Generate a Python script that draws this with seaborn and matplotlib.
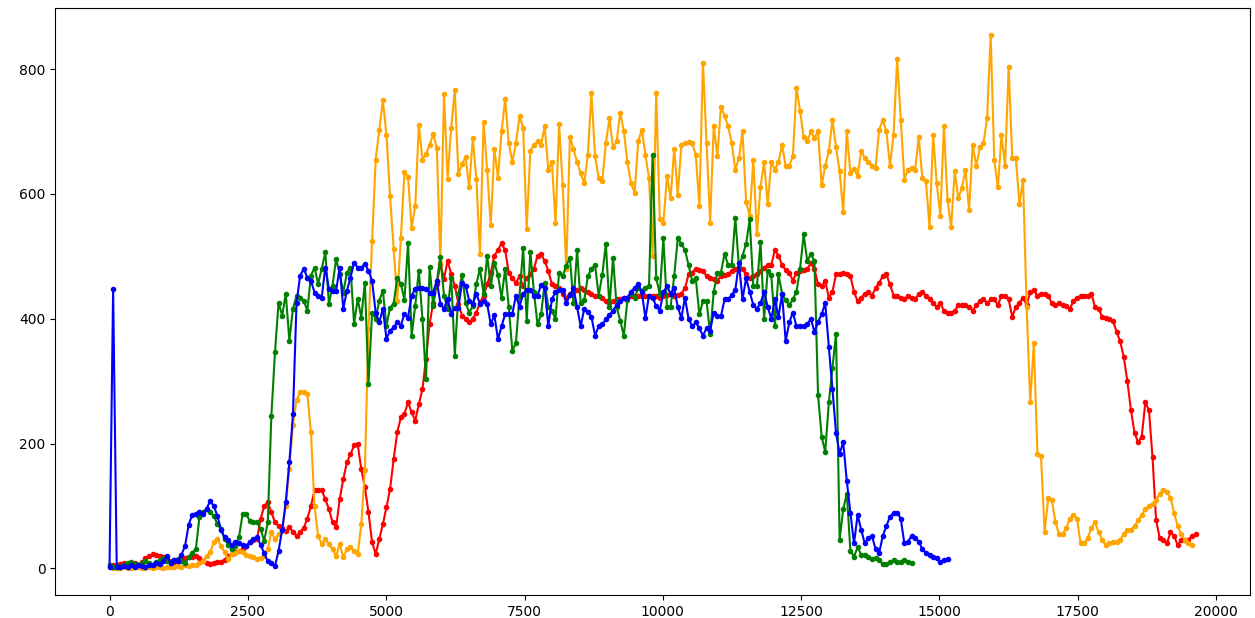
import numpy as np
import matplotlib
matplotlib.use("Agg")
import matplotlib.pyplot as plt
import seaborn as sns

STEP = 65  # sampling interval on the x axis

blue_vals = [
    2, 447, 3, 2, 4, 3, 5, 2, 6, 4,
    3, 6, 5, 9, 7, 12, 20, 9, 14, 12,
    22, 36, 70, 86, 88, 90, 88, 96, 108, 100,
    84, 62, 50, 46, 37, 42, 40, 38, 36, 42,
    47, 50, 38, 24, 12, 8, 4, 28, 62, 106,
    170, 247, 426, 469, 480, 466, 461, 442, 437, 434,
    482, 448, 445, 445, 482, 416, 445, 466, 490, 482,
    482, 488, 477, 461, 410, 394, 416, 368, 381, 386,
    394, 389, 408, 402, 437, 448, 450, 449, 448, 442,
    442, 461, 424, 416, 432, 408, 418, 418, 458, 453,
    429, 424, 440, 424, 429, 424, 391, 406, 367, 388,
    407, 408, 408, 437, 419, 440, 446, 446, 437, 437,
    454, 449, 388, 431, 443, 446, 446, 425, 438, 449,
    419, 388, 416, 411, 403, 373, 388, 391, 399, 406,
    413, 422, 428, 434, 434, 443, 450, 455, 443, 401,
    437, 434, 420, 413, 443, 452, 440, 449, 419, 401,
    434, 400, 388, 394, 385, 373, 385, 381, 410, 404,
    404, 431, 431, 438, 446, 489, 431, 465, 443, 422,
    416, 425, 443, 419, 400, 431, 403, 440, 364, 394,
    410, 388, 388, 388, 391, 400, 379, 395, 407, 425,
    355, 288, 217, 184, 202, 140, 89, 40, 86, 62,
    40, 49, 52, 31, 25, 52, 68, 83, 89, 89,
    80, 40, 43, 52, 48, 43, 31, 25, 22, 19,
    16, 10, 13, 15,
]

green_vals = [
    5, 3, 4, 2, 6, 8, 10, 7, 5, 9,
    12, 8, 6, 10, 14, 16, 12, 9, 13, 15,
    12, 8, 18, 25, 31, 82, 90, 95, 90, 84,
    71, 63, 47, 38, 31, 36, 50, 87, 87, 76,
    75, 74, 63, 44, 74, 245, 346, 426, 405, 440,
    365, 416, 437, 434, 429, 413, 469, 482, 456, 480,
    507, 424, 453, 496, 472, 442, 474, 482, 392, 432,
    402, 458, 295, 410, 400, 429, 445, 389, 418, 424,
    466, 456, 430, 522, 373, 421, 477, 400, 303, 483,
    420, 460, 499, 437, 416, 466, 341, 440, 470, 426,
    410, 420, 456, 480, 440, 501, 452, 490, 470, 434,
    480, 419, 349, 361, 437, 513, 397, 507, 443, 391,
    407, 458, 419, 413, 400, 474, 468, 485, 498, 425,
    510, 425, 430, 468, 480, 486, 437, 470, 520, 419,
    498, 419, 397, 373, 430, 440, 434, 449, 445, 450,
    452, 663, 465, 440, 529, 419, 419, 468, 529, 520,
    510, 486, 461, 465, 407, 428, 428, 376, 443, 474,
    474, 504, 486, 486, 562, 483, 501, 520, 559, 452,
    452, 523, 400, 477, 470, 388, 471, 440, 430, 422,
    431, 443, 480, 535, 492, 504, 492, 278, 211, 187,
    266, 321, 376, 46, 95, 120, 28, 19, 34, 22,
    22, 19, 15, 16, 13, 7, 7, 10, 13, 10,
    10, 13, 10, 8,
]

red_vals = [
    6, 5, 6, 7, 8, 7, 9, 8, 6, 10,
    16, 20, 23, 22, 20, 18, 15, 12, 11, 13,
    15, 17, 18, 19, 20, 16, 12, 9, 7, 9,
    10, 11, 14, 20, 23, 26, 28, 31, 36, 42,
    45, 47, 79, 100, 106, 90, 74, 68, 64, 60,
    66, 58, 52, 58, 65, 80, 100, 125, 126, 125,
    111, 95, 74, 66, 111, 143, 170, 183, 197, 199,
    159, 130, 90, 42, 23, 47, 71, 98, 127, 175,
    218, 242, 248, 266, 250, 237, 263, 287, 336, 392,
    426, 456, 488, 464, 493, 472, 453, 424, 405, 400,
    394, 400, 410, 426, 437, 455, 474, 501, 510, 521,
    510, 474, 465, 458, 468, 452, 465, 472, 480, 501,
    504, 492, 477, 455, 452, 450, 440, 434, 440, 443,
    446, 449, 446, 443, 440, 437, 436, 434, 428, 425,
    428, 431, 431, 434, 434, 436, 437, 437, 437, 436,
    437, 437, 436, 434, 437, 438, 440, 437, 438, 440,
    449, 471, 474, 480, 478, 477, 468, 465, 463, 461,
    468, 470, 471, 477, 480, 480, 480, 471, 465, 468,
    471, 477, 482, 486, 486, 510, 501, 486, 478, 474,
    461, 474, 477, 478, 480, 489, 480, 455, 452, 461,
    434, 443, 471, 472, 474, 471, 468, 443, 428, 434,
    440, 443, 437, 449, 458, 468, 471, 455, 437, 436,
    434, 431, 437, 433, 431, 440, 443, 437, 431, 425,
    419, 425, 413, 410, 410, 413, 422, 422, 422, 419,
    413, 422, 428, 432, 425, 431, 431, 422, 437, 437,
    431, 403, 419, 425, 434, 422, 443, 446, 437, 440,
    440, 437, 425, 422, 425, 422, 420, 416, 428, 434,
    436, 437, 437, 440, 419, 416, 403, 402, 400, 397,
    379, 364, 339, 300, 254, 217, 202, 211, 266, 254,
    178, 77, 49, 45, 40, 58, 52, 37, 46, 46,
    46, 52, 55,
]

orange_vals = [
    2, 0, 1, 0, 2, 1, 0, 2, 3, 1,
    0, 2, 1, 3, 2, 1, 2, 3, 2, 4,
    3, 5, 4, 6, 5, 8, 12, 20, 26, 42,
    47, 36, 26, 15, 23, 25, 28, 26, 22, 20,
    18, 15, 16, 20, 31, 58, 47, 55, 60, 100,
    160, 230, 270, 282, 282, 280, 218, 100, 52, 39,
    47, 39, 31, 20, 39, 18, 31, 34, 28, 23,
    71, 157, 384, 524, 655, 703, 750, 695, 596, 512,
    429, 529, 635, 627, 546, 580, 711, 655, 664, 678,
    696, 674, 490, 760, 624, 706, 766, 632, 648, 659,
    611, 689, 624, 503, 715, 638, 550, 672, 626, 700,
    752, 681, 651, 681, 724, 706, 544, 669, 678, 684,
    678, 709, 639, 651, 553, 712, 614, 480, 691, 672,
    651, 633, 617, 663, 761, 660, 626, 620, 681, 721,
    675, 684, 730, 700, 651, 617, 602, 684, 703, 663,
    626, 501, 761, 559, 553, 629, 593, 672, 599, 678,
    681, 683, 681, 663, 581, 810, 681, 554, 709, 660,
    740, 725, 709, 681, 639, 657, 700, 587, 565, 654,
    535, 611, 651, 584, 651, 639, 651, 678, 645, 645,
    660, 770, 733, 691, 684, 700, 690, 700, 614, 645,
    669, 718, 675, 636, 571, 700, 633, 640, 629, 669,
    657, 651, 645, 642, 703, 718, 700, 645, 695, 816,
    718, 623, 639, 642, 639, 691, 626, 620, 547, 694,
    617, 565, 709, 590, 547, 636, 593, 610, 639, 574,
    678, 645, 675, 681, 721, 855, 654, 611, 694, 645,
    804, 657, 657, 584, 623, 419, 266, 361, 184, 180,
    58, 113, 110, 75, 55, 55, 65, 80, 86, 80,
    40, 40, 49, 65, 74, 58, 46, 37, 40, 42,
    43, 46, 55, 62, 62, 68, 77, 86, 95, 100,
    104, 110, 120, 126, 123, 113, 89, 68, 55, 46,
    40, 38,
]

# drawing order: red at the bottom, then orange, green, blue on top
series = [
    (red_vals, "red"),
    (orange_vals, "orange"),
    (green_vals, "green"),
    (blue_vals, "blue"),
]

fig, ax = plt.subplots(figsize=(12.55, 6.18), dpi=100)
fig.subplots_adjust(left=0.044, right=0.996, bottom=0.037, top=0.987)

for vals, color in series:
    x = np.arange(len(vals)) * STEP
    sns.lineplot(x=x, y=vals, color=color, marker="o", markersize=4,
                 markeredgecolor=color, markeredgewidth=0, linewidth=1.5,
                 ax=ax, sort=False, errorbar=None)

ax.set_xlabel("")
ax.set_ylabel("")
ax.set_yticks([0, 200, 400, 600, 800])

fig.savefig("out.png", dpi=100)
